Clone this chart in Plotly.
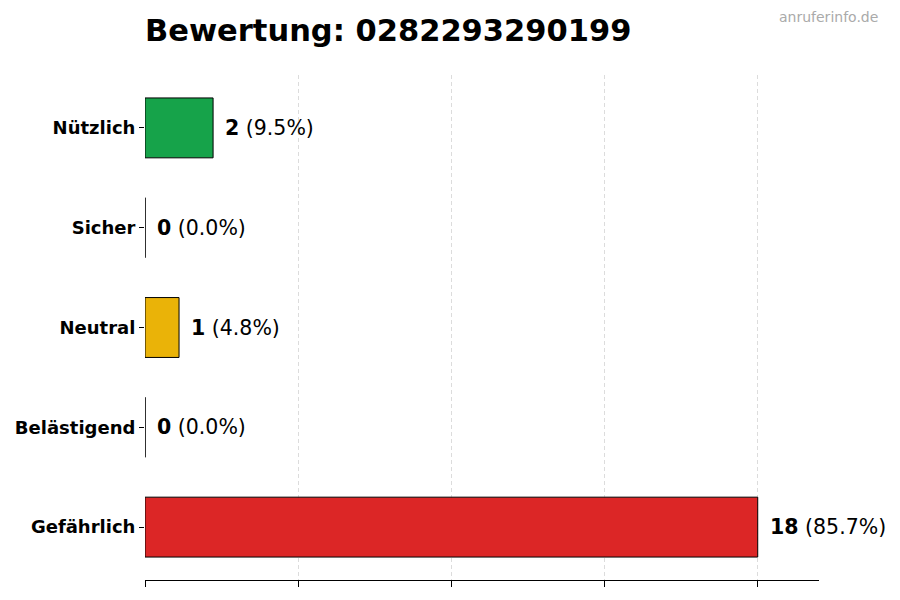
import plotly.graph_objects as go

# Ratings for the phone number (top to bottom as shown)
categories = ['Nützlich', 'Sicher', 'Neutral', 'Belästigend', 'Gefährlich']
counts = [2, 0, 1, 0, 18]
bar_colors = ['#16a34a', '#9ca3af', '#eab308', '#f97316', '#dc2626']
x_ticks = [0, 4.5, 9, 13.5, 18]

total = sum(counts)
y_pos = list(range(len(categories)))
font = 'DejaVu Sans'

fig = go.Figure()
fig.add_trace(go.Bar(
    x=counts, y=y_pos, orientation='h', width=0.6,
    marker=dict(color=bar_colors, line=dict(color='black', width=1)),
    hoverinfo='skip', showlegend=False,
))

# zero-width bars still show their edge in the original, draw it as a thin line
zx, zy = [], []
for c, y in zip(counts, y_pos):
    if c == 0:
        zx += [c, c, None]
        zy += [y - 0.3, y + 0.3, None]
fig.add_trace(go.Scatter(x=zx, y=zy, mode='lines', line=dict(color='#222', width=1),
                         hoverinfo='skip', showlegend=False))

# value labels next to bars
for c, y in zip(counts, y_pos):
    pct = c / total * 100
    fig.add_annotation(x=c, y=y, xref='x', yref='y', text=f'<b>{c}</b> ({pct:.1f}%)',
                       showarrow=False, xanchor='left', yanchor='middle', xshift=10,
                       font=dict(family=font, size=20.5, color='black'))

# page is drawn with an 8px body margin, so everything is shifted back by 8px
fig.add_annotation(text='anruferinfo.de', xref='paper', yref='paper', x=1.0905, y=1.115,
                   xanchor='right', yanchor='middle', showarrow=False,
                   font=dict(family=font, size=14, color='#aaaaaa'))

fig.update_layout(
    width=900, height=600,
    margin=dict(l=137, r=89, t=67, b=28),
    plot_bgcolor='white', paper_bgcolor='white',
    title=dict(text='<b>Bewertung: 0282293290199</b>', x=137 / 900, xanchor='left',
               y=1 - 22 / 600, yanchor='middle', yref='container',
               font=dict(family=font, size=30.5, color='black')),
    xaxis=dict(range=[0, max(counts) * 1.1], tickvals=x_ticks, showticklabels=False,
               showgrid=True, gridcolor='#dcdcdc', griddash='4px,3px', gridwidth=1,
               showline=True, linecolor='black', linewidth=1, automargin=False,
               ticks='outside', ticklen=6, tickcolor='black', zeroline=False),
    yaxis=dict(range=[len(categories) - 1 + 0.53, -0.53], tickvals=y_pos, ticktext=categories,
               showgrid=False, zeroline=False, showline=False, automargin=False,
               ticks='outside', ticklen=5, tickcolor='black',
               tickfont=dict(family=font, size=18, color='black', weight='bold')),
)

fig.write_html('out.html')
